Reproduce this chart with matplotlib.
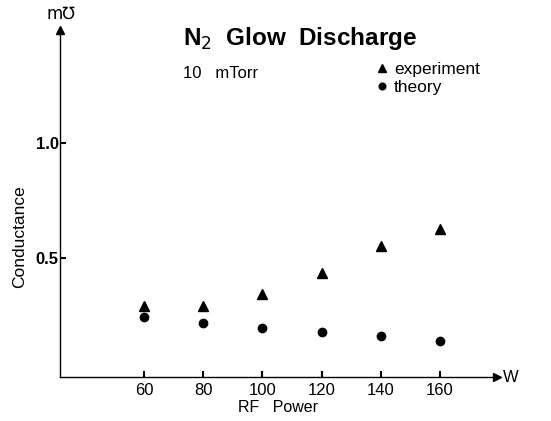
import matplotlib
matplotlib.use("Agg")
import matplotlib.pyplot as plt

plt.rcParams['font.family'] = ['Liberation Sans', 'DejaVu Sans']

power = [60, 80, 100, 120, 140, 160]
experiment = [0.29, 0.29, 0.345, 0.435, 0.552, 0.626]
theory = [0.243, 0.217, 0.197, 0.18, 0.161, 0.138]
xticks = [60, 80, 100, 120, 140, 160]
yticks = [0.5, 1.0]
yticklabels = ["0.5", "1.0"]

fig = plt.figure(figsize=(5.51, 4.21), dpi=100)
ax = fig.add_axes([60/551, (421-377)/421, (497-60)/551, (377-30)/421])
ax.set_xlim(31.6, 179.3)
ax.set_ylim(-0.017, 1.49)

ax.plot(power, experiment, linestyle='none', marker='^', color='black', markersize=6.5, label='experiment')
ax.plot(power, theory, linestyle='none', marker='o', color='black', markersize=6, label='theory')

for s in ['top', 'right']:
    ax.spines[s].set_visible(False)
for s in ['left', 'bottom']:
    ax.spines[s].set_linewidth(1.0)
    ax.spines[s].set_color('black')

# arrow heads
ax.plot([1], [0], marker='>', color='black', markersize=6, transform=ax.transAxes, clip_on=False)
ax.plot([0], [1], marker='^', color='black', markersize=6, transform=ax.transAxes, clip_on=False)

ax.set_xticks(xticks)
ax.set_xticklabels([str(v) for v in xticks], fontsize=12)
ax.set_yticks(yticks)
ax.set_yticklabels(yticklabels, fontsize=12, fontweight='bold')
ax.tick_params(axis='x', direction='in', length=4, width=1.5, pad=4)
ax.tick_params(axis='y', direction='in', length=4, width=1.5, pad=1)

ax.set_xlabel("RF   Power", fontsize=11.5, labelpad=2)
fig.text(20/551, 1 - 237/421, "Conductance", fontsize=12.5, rotation=90, ha='center', va='center')

fig.text(183/551, 1 - 38/421, r"N$_2$  Glow  Discharge", fontsize=17.5, fontweight='bold',
         ha='left', va='center')
fig.text(183/551, 1 - 73/421, "10   mTorr", fontsize=12, ha='left', va='center')
fig.text(61/551, 1 - 14/421, "m\u2127", fontsize=12, ha='center', va='center',
         family=['DejaVu Sans'])
fig.text(511/551, 1 - 377/421, "W", fontsize=12, ha='center', va='center')

leg = ax.legend(loc='upper left', bbox_to_anchor=(367/551, 1 - 53/421), bbox_transform=fig.transFigure,
                frameon=False, fontsize=12.5, handlelength=0.7, handletextpad=0.35,
                borderpad=0, labelspacing=0.2, markerscale=0.8)

fig.savefig("out.png", dpi=100)
